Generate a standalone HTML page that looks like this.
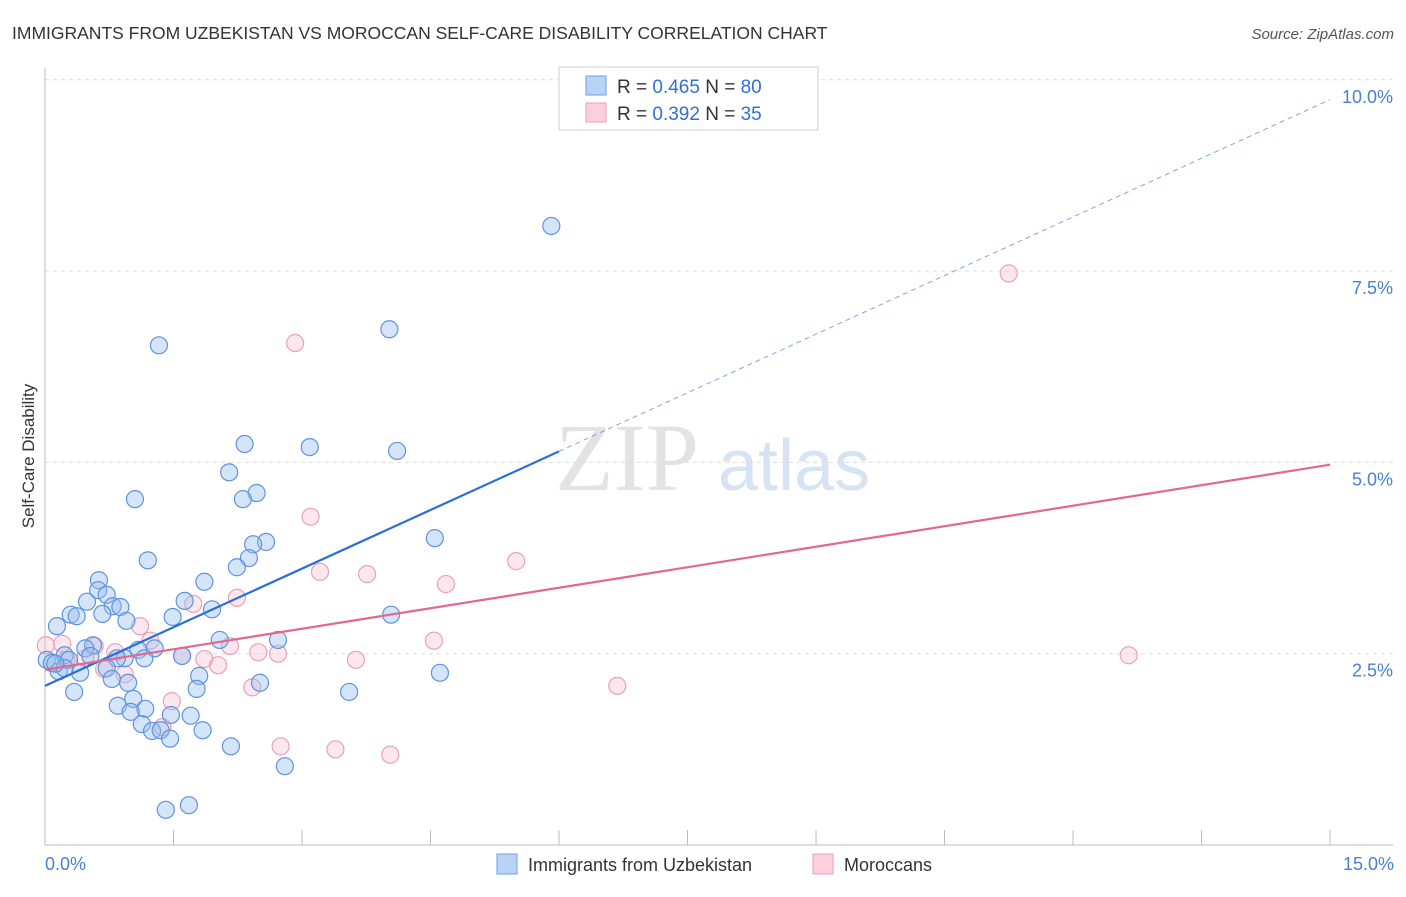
<!DOCTYPE html>
<html><head><meta charset="utf-8"><style>
body{margin:0;background:#fff;font-family:"Liberation Sans",sans-serif}
svg text{font-family:"Liberation Sans",sans-serif}
</style></head><body>
<svg id="chart" width="1406" height="892" xmlns="http://www.w3.org/2000/svg">
<text x="12" y="39" font-size="17.5" fill="#333">IMMIGRANTS FROM UZBEKISTAN VS MOROCCAN SELF-CARE DISABILITY CORRELATION CHART</text>
<text x="1394" y="39" font-size="15" fill="#555" text-anchor="end" font-style="italic">Source: ZipAtlas.com</text>
<text x="555" y="490" font-size="96" fill="#e3e3e3" font-family="Liberation Serif" style="font-family:'Liberation Serif',serif">ZIP</text>
<text x="718" y="490" font-size="72" fill="#d6e3f5">atlas</text>
<g id="grid"></g>
<g id="axes"></g>
<g id="marks"></g>
<text transform="translate(34,456) rotate(-90)" font-size="17" fill="#333" text-anchor="middle">Self-Care Disability</text>
<text x="45" y="870" font-size="18" fill="#4a7fd6">0.0%</text>
<text x="1394" y="870" font-size="18" fill="#4a7fd6" text-anchor="end">15.0%</text>
<g>
<rect x="559" y="67" width="259" height="63" fill="#fff" stroke="#ccc"/>
<rect x="586" y="76" width="20" height="19" fill="#b8d3f5" stroke="#6f9fe0"/>
<rect x="586" y="103" width="20" height="19" fill="#fbcfdc" stroke="#ec9fb8"/>
<text x="617" y="93" font-size="19" fill="#333">R = <tspan fill="#2f6fd6">0.465</tspan>   N = <tspan fill="#2f6fd6">80</tspan></text>
<text x="617" y="120" font-size="19" fill="#333">R = <tspan fill="#2f6fd6">0.392</tspan>   N = <tspan fill="#2f6fd6"> 35</tspan></text>
</g>
<g>
<rect x="497" y="854" width="20" height="20" fill="#b8d3f5" stroke="#6f9fe0"/>
<text x="528" y="871" font-size="18" fill="#333">Immigrants from Uzbekistan</text>
<rect x="813" y="854" width="20" height="20" fill="#fbcfdc" stroke="#ec9fb8"/>
<text x="844" y="871" font-size="18" fill="#333">Moroccans</text>
</g>
</svg>
<script>
const yTicks=[2.5,5.0,7.5,10.0];
const yTickLabels=["2.5%","5.0%","7.5%","10.0%"];
const blueX=[5.91,4.02,1.33,2.33,3.09,4.11,2.15,2.47,2.31,1.05,4.55,2.58,2.43,1.20,2.38,2.24,0.63,1.86,0.62,0.72,0.49,1.63,0.79,0.88,1.95,0.30,0.37,0.67,1.49,4.04,0.14,0.95,2.04,2.72,0.56,0.47,1.28,1.09,0.53,0.23,0.93,1.16,1.60,0.02,0.08,0.28,0.84,0.72,0.41,0.16,0.23,0.12,4.61,0.78,1.80,2.51,0.97,0.34,1.77,3.55,1.03,0.85,1.17,1.00,1.47,1.70,1.13,1.84,1.25,1.35,1.46,2.17,2.80,1.41,1.68];
const blueY=[8.09,6.74,6.53,5.24,5.20,5.15,4.87,4.60,4.52,4.52,4.01,3.96,3.93,3.72,3.75,3.63,3.46,3.44,3.33,3.27,3.18,3.19,3.12,3.11,3.08,3.01,2.99,3.02,2.98,3.01,2.86,2.93,2.68,2.68,2.61,2.57,2.57,2.55,2.47,2.48,2.44,2.44,2.47,2.42,2.38,2.42,2.44,2.31,2.25,2.27,2.31,2.37,2.25,2.17,2.21,2.12,2.12,2.00,2.04,2.00,1.91,1.82,1.78,1.74,1.70,1.69,1.58,1.50,1.49,1.50,1.39,1.29,1.03,0.46,0.52];
const pinkX=[11.25,2.92,3.10,5.50,3.21,3.76,4.68,2.24,1.73,1.11,4.54,0.20,1.23,0.58,2.16,0.01,0.82,2.49,2.72,12.65,1.60,1.86,3.63,0.25,0.47,2.02,0.69,0.93,2.42,6.68,1.48,1.37,2.75,3.39,4.03];
const pinkY=[7.47,6.56,4.29,3.71,3.57,3.54,3.41,3.23,3.15,2.86,2.67,2.63,2.67,2.60,2.60,2.61,2.52,2.52,2.50,2.48,2.47,2.43,2.42,2.42,2.44,2.35,2.30,2.23,2.06,2.08,1.88,1.54,1.29,1.25,1.18];
const blueTrend=[2.08,9.74];
const pinkTrend=[2.29,4.97];
const blueSolidEnd=6.0;
const NS="http://www.w3.org/2000/svg";
const sx=v=>45+v*85.67, sy=v=>845-v*76.52;
function mk(tag,attrs,parent){const e=document.createElementNS(NS,tag);for(const k in attrs)e.setAttribute(k,attrs[k]);parent.appendChild(e);return e;}
const grid=document.getElementById('grid'),axes=document.getElementById('axes'),marks=document.getElementById('marks');
yTicks.forEach((t,i)=>{
 const l=mk('line',{x1:45,x2:1393,y1:sy(t),y2:sy(t),stroke:'#ddd','stroke-dasharray':'4,4'},grid);
 
 
 const tx=mk('text',{x:1393,y:sy(t)+23,'font-size':18,fill:'#4a7fd6','text-anchor':'end'},axes);
 tx.textContent=yTickLabels[i];
 
 
});
const ya=mk('line',{x1:45,x2:45,y1:68,y2:845,stroke:'#bbb'},axes);


const xa=mk('line',{x1:45,x2:1393,y1:845,y2:845,stroke:'#bbb'},axes);


for(let k=0;k<=10;k++){
 const x=sx(k*1.5);
 const t=mk('line',{x1:x,x2:x,y1:830,y2:845,stroke:'#bbb'},axes);
 
 
}
function dot(x,y,fill,stroke,name){
 const c=mk('circle',{cx:sx(x),cy:sy(y),r:8.5,fill:fill,stroke:stroke,'stroke-width':1.2},marks);
 
 
}
pinkX.forEach((x,i)=>dot(x,pinkY[i],'rgba(248,185,205,0.35)','#eaa0b9','moroccan-point'));
blueX.forEach((x,i)=>dot(x,blueY[i],'rgba(150,190,240,0.4)','#5f93dc','uzbekistan-point'));
const bAt=v=>blueTrend[0]+(blueTrend[1]-blueTrend[0])*v/15;
const b1=mk('line',{x1:sx(0),y1:sy(bAt(0)),x2:sx(blueSolidEnd),y2:sy(bAt(blueSolidEnd)),stroke:'#2a6fd8','stroke-width':2.2},marks);


const b2=mk('line',{x1:sx(blueSolidEnd),y1:sy(bAt(blueSolidEnd)),x2:sx(15),y2:sy(bAt(15)),stroke:'#7fa6e0','stroke-width':1,'stroke-dasharray':'5,4'},marks);


const p1=mk('line',{x1:sx(0),y1:sy(pinkTrend[0]),x2:sx(15),y2:sy(pinkTrend[1]),stroke:'#e2688f','stroke-width':2.2},marks);


</script>
</body></html>
